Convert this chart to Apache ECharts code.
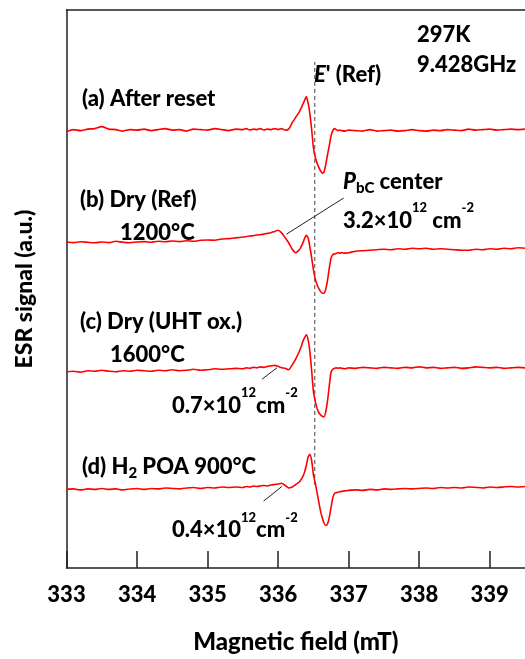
<!DOCTYPE html>
<html>
<head>
<meta charset="utf-8">
<script src="https://cdn.jsdelivr.net/npm/echarts@6/dist/echarts.min.js"></script>
<style>
html, body { margin: 0; padding: 0; background: #fff; }
#main { width: 525px; height: 659px; }
</style>
</head>
<body>
<div id="main"></div>
<script>
// magnetic field grid (mT), denser around the E' / PbC lines
var field = [
  333.0, 333.1, 333.2, 333.3, 333.4, 333.5, 333.6, 333.7, 333.8, 333.9,
  334.0, 334.1, 334.2, 334.3, 334.4, 334.5, 334.6, 334.7, 334.8, 334.9,
  335.0, 335.1, 335.2, 335.3, 335.4, 335.5,
  335.55, 335.6, 335.65, 335.7, 335.75, 335.8, 335.85, 335.9, 335.95, 336.0, 336.05, 336.1, 336.15, 336.2, 336.25, 336.3,
  336.325, 336.35, 336.375, 336.4, 336.425, 336.45, 336.475, 336.5, 336.525, 336.55, 336.575, 336.6,
  336.625, 336.65, 336.675, 336.7, 336.725, 336.75, 336.775, 336.8, 336.825, 336.85, 336.875, 336.9,
  336.95, 337.0, 337.1, 337.2, 337.3, 337.4, 337.5, 337.6, 337.7, 337.8, 337.9, 338.0, 338.1,
  338.2, 338.3, 338.4, 338.5, 338.6, 338.7, 338.8, 338.9, 339.0, 339.1, 339.2, 339.3, 339.4, 339.5
];

// ESR derivative signals (a.u.), same grid as field
var sigA = [
  -0.15, 0.05, -0.05, 0.1, 0.15, 0.35, 0.1, 0.05, -0.1, 0.05,
  0.0, 0.1, -0.05, 0.05, 0.15, 0.0, 0.05, -0.1, 0.1, 0.05,
  0.0, 0.15, 0.05, -0.05, 0.1, 0.05,
  0.15, 0.0, 0.1, 0.05, 0.15, 0.0, 0.1, 0.05, 0.15, 0.05, 0.15, 0.0, 0.1, 0.75, 1.3, 1.85,
  2.2, 2.6, 3.0, 3.4, 2.75, 1.65, 0.1, -1.75, -2.7, -3.3, -3.75, -4.1,
  -4.35, -4.25, -3.5, -2.5, -1.6, -0.6, -0.05, 0.15, 0.05, -0.05, 0.0, -0.05,
  -0.1, 0.0, -0.05, -0.1, 0.05, -0.1, -0.05, 0.0, -0.1, -0.05, 0.05, -0.05, -0.1,
  0.0, -0.05, 0.05, 0.0, -0.05, 0.1, 0.0, 0.05, 0.1, 0.0, 0.05, 0.1, 0.05, 0.1
];
var sigB = [
  0.78, 0.72, 0.8, 0.75, 0.7, 0.78, 0.72, 0.85, 0.75, 0.7,
  0.78, 0.82, 0.75, 0.85, 0.8, 0.88, 0.82, 0.9, 0.85, 0.95,
  0.98, 0.95, 1.08, 1.12, 1.2, 1.28,
  1.33, 1.38, 1.42, 1.48, 1.53, 1.58, 1.65, 1.72, 1.85, 1.97, 1.7, 1.2, 0.7, 0.05, -0.3, 0.0,
  0.3, 0.65, 1.15, 1.45, 1.2, 0.3, -0.8, -2.0, -2.9, -3.5, -3.9, -4.2,
  -4.4, -4.4, -4.0, -3.1, -1.9, -0.85, -0.5, -0.42, -0.38, -0.3, -0.35, -0.3,
  -0.35, -0.3, -0.15, -0.1, -0.05, 0.0, 0.05, 0.0, 0.1, 0.05, 0.15, 0.1, 0.15,
  0.05, 0.1, 0.05, 0.0, -0.05, -0.05, 0.05, 0.0, 0.1, 0.05, 0.15, 0.1, 0.2, 0.15
];
var sigC = [
  -0.35, -0.3, -0.4, -0.25, -0.3, -0.2, -0.3, -0.35, -0.25, -0.3,
  -0.2, -0.25, -0.3, -0.2, -0.25, -0.15, -0.25, -0.2, -0.1, -0.2,
  -0.15, -0.05, -0.1, -0.05, 0.0, -0.05,
  0.05, 0.0, 0.1, 0.05, 0.15, 0.1, 0.2, 0.25, 0.3, 0.2, 0.05, 0.0, -0.15, 0.35, 0.95, 1.7,
  2.15, 2.7, 3.1, 3.4, 2.9, 1.7, -0.2, -2.3, -3.3, -4.0, -4.45, -4.7,
  -4.85, -4.9, -4.4, -3.3, -1.8, -0.4, -0.1, 0.0, 0.05, 0.0, 0.05, 0.0,
  -0.05, 0.05, 0.0, 0.1, 0.05, 0.0, 0.1, 0.05, 0.0, 0.1, 0.05, 0.15, 0.05,
  0.1, 0.0, 0.05, 0.1, 0.0, 0.05, 0.15, 0.1, 0.05, 0.1, 0.0, 0.05, 0.1, 0.05
];
var sigD = [
  -0.15, -0.1, -0.2, -0.1, -0.15, -0.05, -0.15, -0.1, -0.2, -0.1,
  -0.05, -0.15, -0.05, -0.1, 0.0, -0.05, -0.1, 0.0, 0.05, -0.05,
  0.05, 0.0, 0.1, 0.05, 0.1, 0.05,
  0.15, 0.1, 0.2, 0.15, 0.2, 0.25, 0.2, 0.3, 0.35, 0.4, 0.48, 0.25, 0.0, 0.1, 0.35, 0.6,
  0.85, 1.15, 1.6, 2.3, 3.1, 3.4, 2.8, 1.35, 0.55, -0.4, -1.35, -2.3,
  -3.0, -3.55, -3.8, -3.65, -3.0, -2.0, -1.0, -0.55, -0.48, -0.42, -0.38, -0.35,
  -0.3, -0.25, -0.2, -0.25, -0.15, -0.2, -0.1, -0.15, -0.1, -0.05, -0.1, -0.05, 0.0,
  -0.05, 0.05, 0.0, 0.05, 0.0, 0.1, 0.05, 0.0, 0.1, 0.05, 0.1, 0.15, 0.1, 0.15
];

// vertical stacking offsets of the four spectra (a.u.)
var traceOffsets = [44.3, 32.2, 20.2, 8.1];
var fieldTicks = [333, 334, 335, 336, 337, 338, 339];
var ePrimeField = 336.52;

var FONT = 'Lato';
var WEIGHT = 900;
var AXIS_COLOR = '#222';
var TRACE_COLOR = '#ff0000';

var myChart = echarts.init(document.getElementById('main'));

function traceData(sig, offset) {
    return field.map(function (f, i) { return [f, +(offset + sig[i]).toFixed(3)]; });
}

var richStyles = {
    i: { fontStyle: 'italic', fontWeight: WEIGHT, fontSize: 22, fontFamily: FONT, fill: '#000' },
    sup: { fontWeight: WEIGHT, fontSize: 13, fontFamily: FONT, fill: '#000', padding: [0, 0, 25, 0] },
    sub: { fontWeight: WEIGHT, fontSize: 15, fontFamily: FONT, fill: '#000', padding: [12, 0, 0, 0] }
};

function label(x, y, text) {
    return {
        type: 'text', x: x, y: y, silent: true,
        style: {
            text: text, fill: '#000', font: WEIGHT + ' 22px ' + FONT,
            align: 'left', verticalAlign: 'middle', rich: richStyles
        }
    };
}

function leader(p0, p1) {
    return {
        type: 'line', data: [p0, p1], symbol: 'none', silent: true, z: 2,
        lineStyle: { color: '#222', width: 1 }
    };
}

function trace(sig, offset) {
    return {
        type: 'line', data: traceData(sig, offset), symbol: 'none', silent: true, z: 3,
        smooth: 0.2,
        lineStyle: { color: TRACE_COLOR, width: 1.6 }
    };
}

myChart.setOption({
    animation: false,
    backgroundColor: '#fff',
    grid: { left: 66.5, right: 0, top: 10, bottom: 84.5 },
    xAxis: [{
        type: 'value', min: 333, max: 339.5, position: 'bottom',
        axisLine: { onZero: false, lineStyle: { color: AXIS_COLOR, width: 1.5 } },
        axisTick: { inside: true, length: 17, customValues: fieldTicks, lineStyle: { color: AXIS_COLOR, width: 1.5 } },
        axisLabel: { customValues: fieldTicks, margin: 16, color: '#000', fontFamily: FONT, fontWeight: WEIGHT, fontSize: 22 },
        splitLine: { show: false },
        name: 'Magnetic field (mT)', nameLocation: 'middle', nameGap: 62,
        nameTextStyle: { color: '#000', fontFamily: FONT, fontWeight: WEIGHT, fontSize: 24 }
    }, {
        type: 'value', min: 333, max: 339.5, position: 'top',
        axisLine: { onZero: false, lineStyle: { color: AXIS_COLOR, width: 1.5 } },
        axisTick: { show: false }, axisLabel: { show: false }, splitLine: { show: false }
    }],
    yAxis: {
        type: 'value', min: 0, max: 56.45,
        axisLine: { show: true, onZero: false, lineStyle: { color: AXIS_COLOR, width: 1.5 } },
        axisTick: { show: false }, axisLabel: { show: false }, splitLine: { show: false },
        name: 'ESR signal (a.u.)', nameLocation: 'middle', nameGap: 30, nameRotate: 90,
        nameTextStyle: { color: '#000', fontFamily: FONT, fontWeight: WEIGHT, fontSize: 23 }
    },
    series: [
        // E' reference field
        {
            type: 'line', data: [[ePrimeField, 8.4], [ePrimeField, 51.2]], symbol: 'none', silent: true, z: 1,
            lineStyle: { color: '#444', width: 1, type: [4, 3] }
        },
        leader([336.116, 33.76], [336.929, 37.43]),
        leader([335.772, 19.1], [335.984, 20.26]),
        leader([335.794, 6.76], [336.055, 8.26]),
        trace(sigA, traceOffsets[0]),
        trace(sigB, traceOffsets[1]),
        trace(sigC, traceOffsets[2]),
        trace(sigD, traceOffsets[3])
    ],
    graphic: [
        label(417, 34.5, '297K'),
        label(417, 65, '9.428GHz'),
        label(314, 74.5, "{i|E}' (Ref)"),
        label(82, 99, '(a) After reset'),
        label(80, 200, '(b) Dry (Ref)'),
        label(120, 232.5, '1200°C'),
        label(343, 182, '{i|P}{sub|bC} center'),
        label(343, 220.5, '3.2×10{sup|12} cm{sup|-2}'),
        label(80, 322, '(c) Dry (UHT ox.)'),
        label(110, 354.5, '1600°C'),
        label(172, 405.5, '0.7×10{sup|12}cm{sup|-2}'),
        label(82, 467, '(d) H{sub|2} POA 900°C'),
        label(172, 530, '0.4×10{sup|12}cm{sup|-2}')
    ]
});
</script>
</body>
</html>
